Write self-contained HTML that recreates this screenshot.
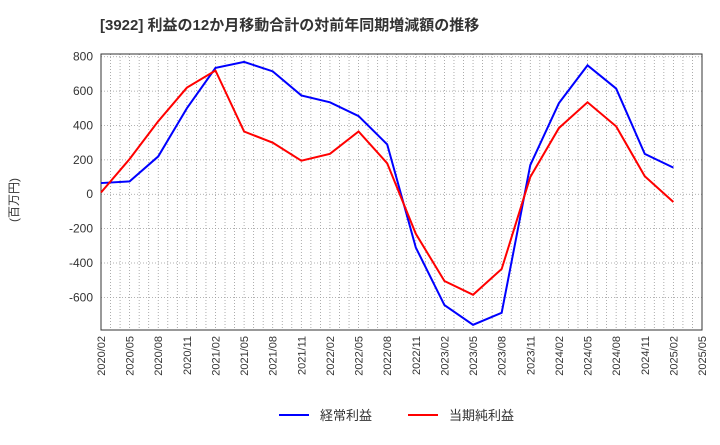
<!DOCTYPE html>
<html><head><meta charset="utf-8"><style>
body{margin:0;background:#fff;font-family:"Liberation Sans","Noto Sans CJK JP",sans-serif;}
svg text{font-family:"Liberation Sans","Noto Sans CJK JP",sans-serif;}
</style></head><body>
<svg id="c" width="720" height="440" xmlns="http://www.w3.org/2000/svg">
<text x="100" y="30" font-size="15" font-weight="bold" fill="#333">[3922]  利益の12か月移動合計の対前年同期増減額の推移</text>
<text transform="translate(18,200) rotate(-90)" font-size="12" fill="#333" text-anchor="middle">(百万円)</text>
<g id="grid"></g><g id="axes"></g><g id="series"></g>
<g>
<line x1="279" y1="415" x2="309" y2="415" stroke="#0000ff" stroke-width="2"/>
<text x="320" y="420" font-size="13" fill="#333">経常利益</text>
<line x1="408" y1="415" x2="438" y2="415" stroke="#ff0000" stroke-width="2"/>
<text x="449" y="420" font-size="13" fill="#333">当期純利益</text>
</g>
</svg>
<script>
const xLabels=["2020/02","2020/05","2020/08","2020/11","2021/02","2021/05","2021/08","2021/11","2022/02","2022/05","2022/08","2022/11","2023/02","2023/05","2023/08","2023/11","2024/02","2024/05","2024/08","2024/11","2025/02","2025/05"];
const yTicks=[800,600,400,200,0,-200,-400,-600];
const keijo=[65,75,220,500,735,770,715,575,535,455,290,-310,-645,-760,-690,170,530,750,615,235,155];
const junri=[10,205,425,620,720,365,300,195,235,365,180,-230,-505,-585,-435,100,385,535,395,105,-45];
const L=101,R=702,T=54,B=330,yMin=-790,yMax=816;
const ns="http://www.w3.org/2000/svg";
const X=i=>L+i*(R-L)/(xLabels.length-1);
const Y=v=>B-(v-yMin)/(yMax-yMin)*(B-T);
function mk(tag,attrs,parent){const e=document.createElementNS(ns,tag);for(const k in attrs)e.setAttribute(k,attrs[k]);document.getElementById(parent).appendChild(e);return e;}
for(let m=1;m<(xLabels.length-1)*3;m++){const x=L+m*(R-L)/((xLabels.length-1)*3);
const g=mk('line',{x1:x,x2:x,y1:T,y2:B,stroke:'#999','stroke-dasharray':'1,2','stroke-width':0.8},'grid');

}
yTicks.forEach(v=>{const g=mk('line',{x1:L,x2:R,y1:Y(v),y2:Y(v),stroke:'#999','stroke-dasharray':'1,2','stroke-width':0.8},'grid');


const t=mk('text',{x:L-8,y:Y(v)+4,'font-size':12,fill:'#333','text-anchor':'end'},'axes');t.textContent=v;

});
xLabels.forEach((s,i)=>{const t=mk('text',{transform:`translate(${X(i)+4},${B+6}) rotate(-90)`,'font-size':11,fill:'#333','text-anchor':'end'},'axes');t.textContent=s;

});
const fr=mk('rect',{x:L,y:T,width:R-L,height:B-T,fill:'none',stroke:'#333','stroke-width':1},'axes');


[[keijo,'#0000ff','keijo-line'],[junri,'#ff0000','junri-line']].forEach(([d,c,n])=>{
const p=mk('polyline',{points:d.map((v,i)=>X(i)+','+Y(v)).join(' '),fill:'none',stroke:c,'stroke-width':2},'series');

});
</script>
</body></html>
